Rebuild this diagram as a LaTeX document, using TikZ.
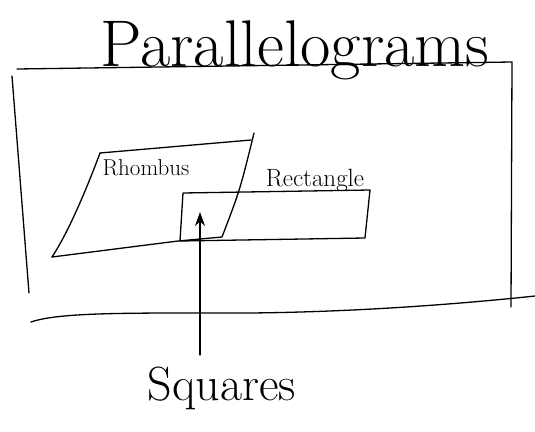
\documentclass[tikz,border=0pt]{standalone}
\usetikzlibrary{arrows.meta}
\begin{document}
\begin{tikzpicture}[x=1pt,y=-1pt,line width=1.3pt,line cap=round,line join=round,
  lbl/.style={inner sep=0pt}]
\useasboundingbox (0,0) rectangle (535,431);
% title
\node[lbl,font=\fontsize{66}{66}\selectfont] (title) at (295,50) {Parallelograms};
% big frame
\coordinate (tl) at (17,69);
\coordinate (tr) at (512,62);
\coordinate (rb) at (511,307);
\coordinate (ltop) at (12,76);
\coordinate (lbot) at (29,293);
\coordinate (bl) at (31,322);
\coordinate (br) at (535,296);
\draw (tl) -- (tr) -- (rb);
\draw (ltop) -- (lbot);
\draw (bl) .. controls (60,312) and (130,313) .. (250,313) .. controls (350,312) and (450,305) .. (br);
% rhombus
\coordinate (r1) at (100,153);
\coordinate (r2) at (251,140);
\coordinate (r3) at (222,237);
\coordinate (r4) at (52,257);
\draw (r1) -- (r2);
\draw (254,133) .. controls (240,190) .. (r3) -- (178,241) -- (r4);
\draw (r1) .. controls (90,180) and (70,230) .. (r4);
\node[lbl,font=\fontsize{23}{23}\selectfont] (rh) at (146,168) {Rhombus};
% rectangle
\draw (183,193) -- (370,190) -- (365,238) -- (180,241) -- cycle;
\node[lbl,font=\fontsize{25}{25}\selectfont] (rc) at (315,180) {Rectangle};
% squares arrow
\node[lbl,font=\fontsize{48}{48}\selectfont] (sq) at (222,388) {Squares};
\coordinate (tail) at (200,355);
\coordinate (tip) at (200,212);
\draw[-{Stealth[length=14pt,width=10pt]}] (tail) -- (tip);
\end{tikzpicture}
\end{document}
